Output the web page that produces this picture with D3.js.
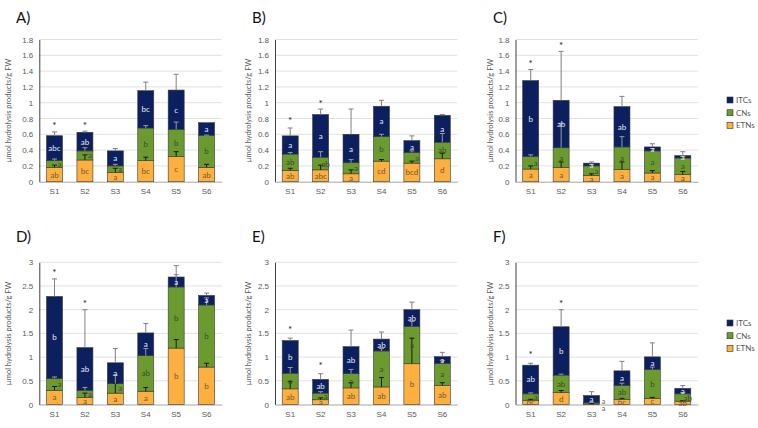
<!DOCTYPE html>
<html><head><meta charset="utf-8">
<script src="https://cdn.jsdelivr.net/npm/d3@7"></script>
<style>body{margin:0;background:#fff}svg{display:block;font-family:Lato,"Open Sans",sans-serif}</style>
</head><body><svg id="c" width="758" height="428"></svg>
<script>
const categories = ["S1","S2","S3","S4","S5","S6"];
const panelTitles = ["A)","B)","C)","D)","E)","F)"];
const yMaxes = [1.8,1.8,1.8,3,3,3];
const ySteps = [0.2,0.2,0.2,0.5,0.5,0.5];
const seriesNames = ["ITCs","CNs","ETNs"];
const yLabel = "µmol hydrolysis products/g FW";

// segment values (stacked bottom→top: ETNs, CNs, ITCs)
const etnValues = [
  [0.18,0.275,0.114,0.266,0.32,0.18],
  [0.145,0.15,0.10,0.26,0.235,0.29],
  [0.16,0.18,0.08,0.155,0.11,0.09],
  [0.30,0.15,0.24,0.28,1.19,0.79],
  [0.33,0.10,0.35,0.37,0.86,0.40],
  [0.09,0.25,0.01,0.11,0.127,0.07]
];
const cnValues = [
  [0.086,0.115,0.086,0.414,0.343,0.407],
  [0.205,0.16,0.14,0.31,0.135,0.21],
  [0.16,0.25,0.12,0.285,0.28,0.21],
  [0.25,0.15,0.20,0.75,1.29,1.31],
  [0.33,0.14,0.30,0.76,0.79,0.47],
  [0.135,0.37,0.025,0.29,0.613,0.155]
];
const itcValues = [
  [0.316,0.235,0.19,0.472,0.497,0.16],
  [0.23,0.54,0.36,0.385,0.15,0.34],
  [0.96,0.60,0.035,0.51,0.05,0.03],
  [1.73,0.90,0.44,0.48,0.21,0.20],
  [0.69,0.29,0.57,0.25,0.35,0.14],
  [0.605,1.02,0.155,0.31,0.265,0.115]
];
// positive error magnitudes
const etnErr = [
  [0.03,0.065,0.056,0.044,0.06,0.04],
  [0.025,0.06,0.05,0.02,0.025,0.07],
  [0.04,0.07,0.02,0.095,0.03,0.04],
  [0.08,0.09,0.21,0.08,0.18,0.08],
  [0.15,0.04,0.11,0.20,0.54,0.06],
  [0.02,0.045,0.01,0.02,0.023,0.01]
];
const cnErr = [
  [0.021,0.04,0.02,0.03,0.092,0.003],
  [0.02,0.07,0.04,0.03,0.02,0.11],
  [0.02,0.31,0.02,0.13,0.03,0.02],
  [0.03,0.06,0.18,0.15,0.26,0.15],
  [0.12,0.03,0.09,0.05,0.10,0.06],
  [0.02,0.02,0.01,0.05,0.05,0.03]
];
const itcErr = [
  [0.048,0.015,0.03,0.108,0.2,0.003],
  [0.10,0.07,0.32,0.075,0.06,0.01],
  [0.14,0.62,0.015,0.13,0.04,0.05],
  [0.37,0.80,0.30,0.20,0.24,0.05],
  [0.05,0.12,0.35,0.15,0.16,0.09],
  [0.04,0.36,0.08,0.20,0.295,0.06]
];
const etnLetters = [
  ["ab","bc","a","bc","c","ab"],
  ["ab","abc","a","cd","bcd","d"],
  ["a","a","a","a","a","a"],
  ["a","a","a","a","b","b"],
  ["ab","a","ab","ab","b","ab"],
  ["bc","d","a","bc","c","ab"]
];
const cnLetters = [
  ["a","a","a","b","b","b"],
  ["ab","ab","a","b","a","ab"],
  ["a","a","a","a","a","a"],
  ["a","a","a","ab","b","b"],
  ["a","a","a","a","a","a"],
  ["a","ab","a","ab","b","ab"]
];
const itcLetters = [
  ["abc","ab","a","bc","c","a"],
  ["a","a","a","a","a","a"],
  ["b","ab","a","ab","a","a"],
  ["b","ab","a","a","a","a"],
  ["b","ab","ab","ab","ab","a"],
  ["ab","b","a","a","a","a"]
];
// significance star values (y position in data units) for S1, S2
const starValues = [
  [0.73,0.73],[0.79,1.01],[1.52,1.74],[2.81,2.17],[1.62,0.85],[1.09,2.17]
];

const colors = {ITCs:"#0c1f5f", CNs:"#6b9a2e", ETNs:"#fdb03f"};
const errColors = {ETNs:"#1a1a1a", CNs:"#9a9a9a", ITCs:"#808080"};
const letterColors = {ITCs:"#e8ecf4", CNs:"#3f4a30", ETNs:"#6b5a3a"};

const svg = d3.select("#c");
const colX = [39.3, 275, 515.5];
const rowY = [39.5, 262.3];
const plotW = 182.5, plotH = 142.2;
const ylabOff = [28, 24, 23];
const titleX = [16, 252, 493];
const titleY = [23, 242];

panelTitles.forEach((title, p) => {
  const col = p % 3, row = Math.floor(p / 3);
  const g = svg.append("g").attr("transform", `translate(${colX[col]},${rowY[row]})`);
  const x = d3.scaleBand().domain(categories).range([0, plotW]).paddingInner(0.474).paddingOuter(0.237);
  const y = d3.scaleLinear().domain([0, yMaxes[p]]).range([plotH, 0]);
  const ticks = d3.range(0, yMaxes[p] + 1e-9, ySteps[p]).map(v => +v.toFixed(1));

  // gridlines
  g.append("g").selectAll("line").data(ticks.filter(t => t > 0)).join("line")
    .attr("x1", 0).attr("x2", plotW).attr("y1", d => y(d)).attr("y2", d => y(d))
    .attr("stroke", "#d9d9d9").attr("stroke-width", 0.8);

  // y axis
  const ya = g.append("g").call(d3.axisLeft(y).tickValues(ticks).tickSize(0).tickPadding(6)
      .tickFormat(d => String(+d.toFixed(1))));
  ya.select(".domain").attr("stroke", "#404040").attr("stroke-width", 1);
  ya.selectAll("text").attr("fill", "#595959").attr("font-size", 8);

  // x axis
  const xa = g.append("g").attr("transform", `translate(0,${plotH})`)
    .call(d3.axisBottom(x).tickSize(0).tickPadding(7));
  xa.select(".domain").attr("stroke", "#a6a6a6").attr("stroke-width", 1);
  xa.selectAll("text").attr("fill", "#595959").attr("font-size", 8);

  // stacked data
  const rows = categories.map((c, i) => ({cat: c, ETNs: etnValues[p][i], CNs: cnValues[p][i], ITCs: itcValues[p][i]}));
  const stack = d3.stack().keys(["ETNs","CNs","ITCs"])(rows);
  const errs = {ETNs: etnErr[p], CNs: cnErr[p], ITCs: itcErr[p]};
  const lets = {ETNs: etnLetters[p], CNs: cnLetters[p], ITCs: itcLetters[p]};

  stack.forEach(layer => {
    g.append("g").selectAll("rect").data(layer).join("rect")
      .attr("x", d => x(d.data.cat)).attr("width", x.bandwidth())
      .attr("y", d => y(d[1])).attr("height", d => y(d[0]) - y(d[1]))
      .attr("fill", colors[layer.key]).attr("stroke", "#3a3a3a").attr("stroke-width", 0.6);
  });

  // error bars
  stack.forEach(layer => {
    const eg = g.append("g");
    layer.forEach((d, i) => {
      const cx = x(d.data.cat) + x.bandwidth() / 2;
      const y0 = y(d[1]), y1 = y(d[1] + errs[layer.key][i]);
      eg.append("line").attr("x1", cx).attr("x2", cx).attr("y1", y0).attr("y2", y1)
        .attr("stroke", errColors[layer.key]).attr("stroke-width", 1);
      eg.append("line").attr("x1", cx - 2.5).attr("x2", cx + 2.5).attr("y1", y1).attr("y2", y1)
        .attr("stroke", errColors[layer.key]).attr("stroke-width", 1);
    });
  });

  // letters
  stack.forEach(layer => {
    const lg = g.append("g");
    layer.forEach((d, i) => {
      const h = y(d[0]) - y(d[1]);
      const outside = h < 2 && layer.key !== "ITCs";
      let tx = x(d.data.cat) + x.bandwidth() / 2, ty = (y(d[0]) + y(d[1])) / 2 + 3;
      if (outside) {
        tx = x(d.data.cat) + x.bandwidth() + 4;
        ty = layer.key === "ETNs" ? plotH + 6.5 : plotH - 0.5;
      } else if (h < 13 && layer.key === "CNs") {
        tx += 5;
      }
      lg.append("text").attr("x", tx).attr("y", ty).attr("text-anchor", "middle")
        .attr("font-size", outside ? 7 : 8).attr("fill", outside ? "#595959" : letterColors[layer.key])
        .text(lets[layer.key][i]);
    });
  });

  // stars
  g.append("g").selectAll("text").data(starValues[p]).join("text")
    .attr("x", (d, i) => x(categories[i]) + x.bandwidth() / 2)
    .attr("y", d => y(d) + 5).attr("text-anchor", "middle")
    .attr("font-size", 10).attr("fill", "#222").text("*");

  // y label
  g.append("text").attr("transform", `translate(${-ylabOff[col]},${plotH / 2}) rotate(-90)`)
    .attr("text-anchor", "middle").attr("font-size", 7.5).attr("fill", "#595959").text(yLabel);

  // title
  svg.append("text").attr("x", titleX[col]).attr("y", titleY[row])
    .attr("font-size", 15).attr("fill", "#111").text(title);

  // legend in right column
  if (col === 2) {
    const lgY = row === 0 ? 100 : 323;
    const leg = svg.append("g").attr("transform", `translate(727,${lgY})`);
    seriesNames.forEach((s, k) => {
      leg.append("rect").attr("x", 0).attr("y", k * 12.7 - 3).attr("width", 6).attr("height", 6)
        .attr("fill", colors[s]).attr("stroke", "#333").attr("stroke-width", 0.6);
      leg.append("text").attr("x", 9).attr("y", k * 12.7 + 3).attr("font-size", 8)
        .attr("fill", "#595959").text(s);
    });
  }
});
</script></body></html>
